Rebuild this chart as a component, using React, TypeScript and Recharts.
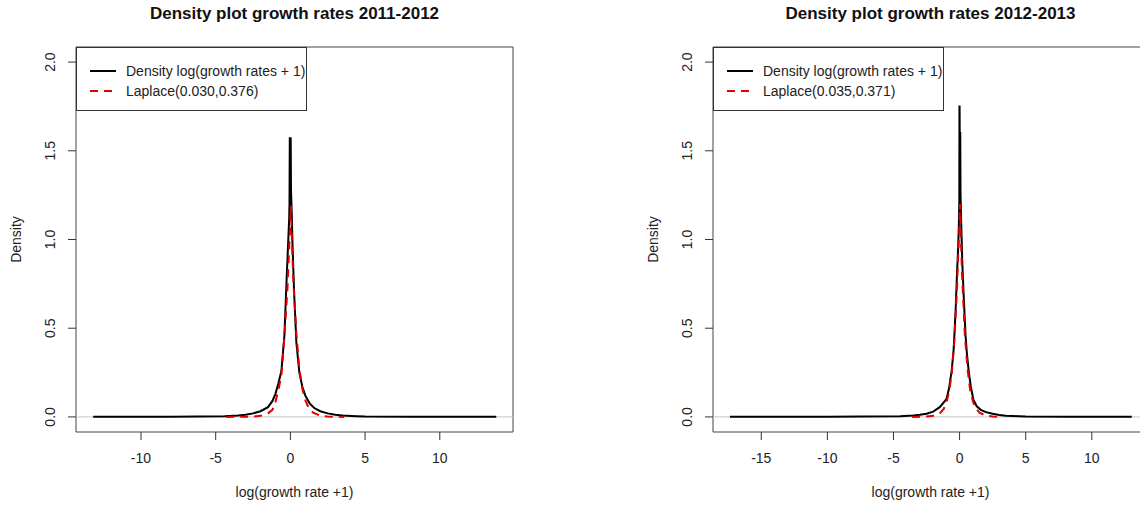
import React from 'react';
import { LineChart, Line, XAxis, YAxis, ReferenceLine, ReferenceArea, Legend } from 'recharts';

// ---- Kernel density of log(growth rate + 1), 2011-2012 ----
const density2011X = [-13.2, -8, -4.4, -3.5, -3, -2.5, -2, -1.5, -1.2, -1.0, -0.8, -0.6, -0.4, -0.25, -0.15, -0.08, -0.06, -0.04, 0.02, 0.04, 0.08, 0.15, 0.25, 0.4, 0.6, 0.8, 1.0, 1.3, 1.6, 2.0, 2.5, 3.0, 3.5, 4.4, 5, 8, 13.78];
const density2011Y = [0.001, 0.001, 0.004, 0.008, 0.012, 0.02, 0.032, 0.055, 0.09, 0.13, 0.19, 0.26, 0.46, 0.78, 0.98, 1.12, 1.2, 1.57, 1.57, 1.28, 1.18, 0.95, 0.7, 0.42, 0.25, 0.17, 0.12, 0.075, 0.05, 0.032, 0.02, 0.012, 0.008, 0.004, 0.002, 0.001, 0.001];

// ---- Fitted Laplace curve, 2011-2012 ----
const laplace2011X = [-4.3, -3.5, -3, -2.5, -2, -1.5, -1.2, -1.0, -0.8, -0.6, -0.4, -0.2, -0.1, 0.0, 0.03, 0.1, 0.2, 0.4, 0.6, 0.8, 1.0, 1.2, 1.5, 2.0, 2.5, 3.0, 3.6];
const laplace2011Y = [0.0, 0.001, 0.001, 0.002, 0.006, 0.02, 0.04, 0.085, 0.15, 0.24, 0.45, 0.72, 0.92, 1.1, 1.19, 1.0, 0.76, 0.47, 0.27, 0.16, 0.095, 0.055, 0.025, 0.007, 0.002, 0.001, 0.0];

// ---- Kernel density of log(growth rate + 1), 2012-2013 ----
const density2012X = [-17.37, -10, -4.5, -3.5, -3, -2.5, -2, -1.5, -1.0, -0.8, -0.6, -0.45, -0.3, -0.2, -0.1, -0.05, -0.02, -0.01, 0.0, 0.01, 0.05, 0.07, 0.12, 0.2, 0.3, 0.45, 0.55, 0.7, 0.85, 1.05, 1.3, 1.6, 2.0, 2.5, 3.0, 3.5, 4.5, 5, 8, 13.02];
const density2012Y = [0.001, 0.001, 0.004, 0.008, 0.012, 0.018, 0.03, 0.055, 0.1, 0.16, 0.26, 0.38, 0.6, 0.8, 0.97, 1.1, 1.22, 1.75, 1.75, 1.6, 1.6, 1.26, 1.1, 0.88, 0.7, 0.46, 0.36, 0.25, 0.17, 0.095, 0.06, 0.04, 0.027, 0.018, 0.011, 0.007, 0.004, 0.002, 0.001, 0.001];

// ---- Fitted Laplace curve, 2012-2013 ----
const laplace2012X = [-3.59, -3, -2.5, -2, -1.5, -1.2, -1.0, -0.8, -0.6, -0.4, -0.2, -0.1, 0.0, 0.035, 0.1, 0.2, 0.4, 0.6, 0.8, 1.0, 1.2, 1.5, 2.0, 2.5, 3.03];
const laplace2012Y = [0.0, 0.001, 0.002, 0.006, 0.02, 0.045, 0.08, 0.14, 0.24, 0.42, 0.72, 0.92, 1.1, 1.2, 1.0, 0.78, 0.46, 0.27, 0.15, 0.09, 0.05, 0.024, 0.007, 0.002, 0.0];

// ---- Axis ticks and labels ----
const xTicks2011 = [-10, -5, 0, 5, 10];
const xTicks2012 = [-15, -10, -5, 0, 5, 10];
const yTicks = [0, 0.5, 1, 1.5, 2];
const titles = ['Density plot growth rates 2011-2012', 'Density plot growth rates 2012-2013'];
const densityName = 'Density log(growth rates + 1)';
const laplaceNames = ['Laplace(0.030,0.376)', 'Laplace(0.035,0.371)'];
const xLabel = 'log(growth rate +1)';
const yLabel = 'Density';

const FONT = '"Liberation Sans", Arial, Helvetica, sans-serif';
const RED = '#e00000';
const CHART_W = 570;
const CHART_H = 506;
const MARGIN = { top: 47, bottom: 0, left: 0 };
const Y_AXIS_W = 76;
const X_AXIS_H = 74;
const Y_DOMAIN: [number, number] = [-0.085, 2.085];

type Pt = { x: number; y: number };
const toPoints = (xs: number[], ys: number[]): Pt[] => xs.map((x, i) => ({ x, y: ys[i] }));

const XTick = (props: any) => {
  const { x, y, payload } = props;
  return (
    <text x={x} y={y} dy="0.71em" textAnchor="middle" fontSize={14} fill="#222" fontFamily={FONT}>
      {payload.value}
    </text>
  );
};

const YTick = (props: any) => {
  const { x, y, payload } = props;
  return (
    <text x={x} y={y} dy="0.36em" transform={`rotate(-90 ${x} ${y})`} textAnchor="middle" fontSize={14} fill="#222" fontFamily={FONT}>
      {Number(payload.value).toFixed(1)}
    </text>
  );
};

const LegendBox = ({ laplaceName }: { laplaceName: string }) => {
  const rows = [
    { name: densityName, color: '#000', dash: undefined as string | undefined, cy: 24 },
    { name: laplaceName, color: RED, dash: '8 6', cy: 43.5 },
  ];
  return (
    <div
      style={{
        position: 'relative',
        width: 231,
        height: 64,
        boxSizing: 'border-box',
        border: '1px solid #333',
        background: '#fff',
        fontFamily: FONT,
        fontSize: 14,
        color: '#222',
      }}
    >
      {rows.map((r) => (
        <React.Fragment key={r.name}>
          <svg width={28} height={6} style={{ position: 'absolute', left: 12, top: r.cy - 4 }}>
            <line x1={1} y1={3} x2={27} y2={3} stroke={r.color} strokeWidth={2} strokeDasharray={r.dash} />
          </svg>
          <div style={{ position: 'absolute', left: 49, top: r.cy - 9, lineHeight: '16px', whiteSpace: 'nowrap' }}>{r.name}</div>
        </React.Fragment>
      ))}
    </div>
  );
};

type PanelProps = {
  left: number;
  rightMargin: number;
  title: string;
  xDomain: [number, number];
  xTicks: number[];
  density: Pt[];
  laplace: Pt[];
  laplaceName: string;
};

const Panel = ({ left, rightMargin, title, xDomain, xTicks, density, laplace, laplaceName }: PanelProps) => {
  const plotLeft = Y_AXIS_W;
  const plotRight = CHART_W - rightMargin;
  const plotCx = (plotLeft + plotRight) / 2;
  const plotTop = MARGIN.top;
  const plotBottom = CHART_H - X_AXIS_H;
  return (
    <div style={{ position: 'absolute', left, top: 0, width: CHART_W, height: CHART_H }}>
      <LineChart width={CHART_W} height={CHART_H} margin={{ ...MARGIN, right: rightMargin }}>
        <XAxis
          type="number"
          dataKey="x"
          domain={xDomain}
          allowDataOverflow
          ticks={xTicks}
          interval={0}
          axisLine={false}
          tickLine={{ stroke: '#333' }}
          tickSize={8}
          tickMargin={13}
          height={X_AXIS_H}
          tick={<XTick />}
        />
        <YAxis
          type="number"
          domain={Y_DOMAIN}
          allowDataOverflow
          ticks={yTicks}
          interval={0}
          axisLine={false}
          tickLine={{ stroke: '#333' }}
          tickSize={8}
          tickMargin={18}
          width={Y_AXIS_W}
          tick={<YTick />}
        />
        <ReferenceLine y={0} stroke="#c4c4c4" strokeWidth={1} ifOverflow="visible" />
        <Line
          data={density}
          dataKey="y"
          name={densityName}
          type="linear"
          stroke="#000"
          strokeWidth={2}
          dot={false}
          activeDot={false}
          isAnimationActive={false}
        />
        <Line
          data={laplace}
          dataKey="y"
          name={laplaceName}
          type="linear"
          stroke={RED}
          strokeWidth={2}
          strokeDasharray="8 6"
          dot={false}
          activeDot={false}
          isAnimationActive={false}
        />
        <ReferenceArea
          x1={xDomain[0]}
          x2={xDomain[1]}
          y1={Y_DOMAIN[0]}
          y2={Y_DOMAIN[1]}
          fill="none"
          fillOpacity={0}
          stroke="#444"
          strokeWidth={1}
          ifOverflow="visible"
        />
        <Legend
          layout="vertical"
          align="center"
          verticalAlign="middle"
          wrapperStyle={{ left: plotLeft, top: plotTop, width: 231, height: 64 }}
          content={() => <LegendBox laplaceName={laplaceName} />}
        />
      </LineChart>
      <svg
        width={CHART_W}
        height={CHART_H}
        style={{ position: 'absolute', left: 0, top: 0, pointerEvents: 'none' }}
        fontFamily={FONT}
      >
        <text x={plotCx} y={19} textAnchor="middle" fontSize={17} fontWeight="bold" fill="#111">
          {title}
        </text>
        <text x={plotCx} y={497} textAnchor="middle" fontSize={14} fill="#222">
          {xLabel}
        </text>
        <text
          x={21}
          y={(plotTop + plotBottom) / 2}
          transform={`rotate(-90 21 ${(plotTop + plotBottom) / 2})`}
          textAnchor="middle"
          fontSize={14}
          fill="#222"
        >
          {yLabel}
        </text>
      </svg>
    </div>
  );
};

export default function App() {
  return (
    <div
      style={{
        position: 'absolute',
        left: 0,
        top: 0,
        width: 1140,
        height: 506,
        overflow: 'hidden',
        background: '#fff',
      }}
    >
      <Panel
        left={0}
        rightMargin={57}
        title={titles[0]}
        xDomain={[-14.35, 14.9]}
        xTicks={xTicks2011}
        density={toPoints(density2011X, density2011Y)}
        laplace={toPoints(laplace2011X, laplace2011Y)}
        laplaceName={laplaceNames[0]}
      />
      <Panel
        left={637}
        rightMargin={59}
        title={titles[1]}
        xDomain={[-18.65, 14.25]}
        xTicks={xTicks2012}
        density={toPoints(density2012X, density2012Y)}
        laplace={toPoints(laplace2012X, laplace2012Y)}
        laplaceName={laplaceNames[1]}
      />
    </div>
  );
}
